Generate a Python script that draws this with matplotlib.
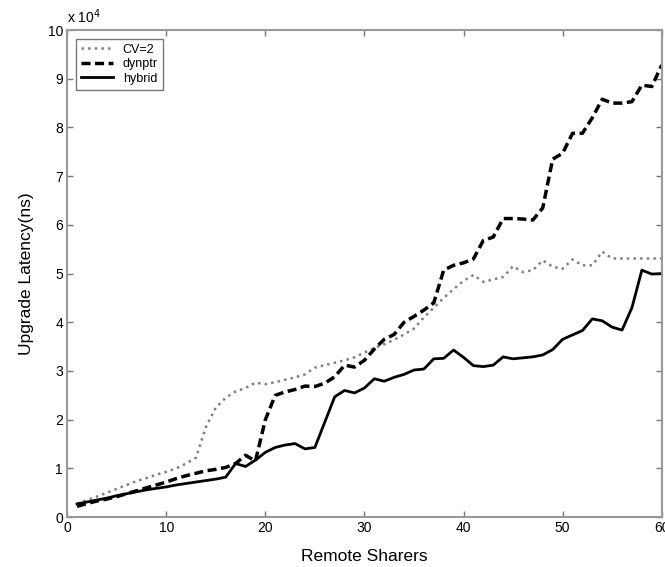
import matplotlib.pyplot as plt

plt.rcParams['font.family'] = ['Liberation Sans', 'DejaVu Sans']

# Remote sharers 1..60
sharers = list(range(1, 61))

# latency values in units of 1e4 ns
cv2 = [0.28, 0.35, 0.42, 0.50, 0.58, 0.66, 0.74, 0.80, 0.87, 0.93,
       1.00, 1.10, 1.22, 1.85, 2.25, 2.45, 2.58, 2.65, 2.76, 2.73,
       2.77, 2.82, 2.87, 2.93, 3.07, 3.12, 3.17, 3.22, 3.28, 3.38,
       3.47, 3.55, 3.64, 3.75, 3.87, 4.10, 4.30, 4.50, 4.68, 4.85,
       4.97, 4.83, 4.88, 4.93, 5.15, 5.03, 5.07, 5.27, 5.14, 5.10,
       5.29, 5.17, 5.17, 5.45, 5.31, 5.31, 5.31, 5.31, 5.31, 5.31]

dynptr = [0.22, 0.28, 0.33, 0.37, 0.42, 0.48, 0.54, 0.60, 0.66, 0.72,
          0.79, 0.85, 0.90, 0.95, 0.98, 1.02, 1.10, 1.27, 1.15, 2.00,
          2.50, 2.57, 2.62, 2.69, 2.68, 2.75, 2.88, 3.12, 3.08, 3.22,
          3.45, 3.65, 3.75, 4.00, 4.12, 4.25, 4.40, 5.07, 5.17, 5.22,
          5.30, 5.68, 5.75, 6.13, 6.13, 6.12, 6.10, 6.35, 7.35, 7.47,
          7.88, 7.88, 8.20, 8.58, 8.50, 8.50, 8.53, 8.87, 8.84, 9.28]

hybrid = [0.27, 0.31, 0.35, 0.39, 0.44, 0.48, 0.52, 0.56, 0.59, 0.62,
          0.66, 0.69, 0.72, 0.75, 0.78, 0.82, 1.10, 1.04, 1.17, 1.33,
          1.43, 1.48, 1.51, 1.40, 1.43, 1.95, 2.47, 2.60, 2.55, 2.65,
          2.84, 2.79, 2.87, 2.93, 3.02, 3.04, 3.25, 3.26, 3.43, 3.28,
          3.11, 3.09, 3.12, 3.29, 3.25, 3.27, 3.29, 3.33, 3.44, 3.65,
          3.74, 3.83, 4.07, 4.03, 3.90, 3.84, 4.30, 5.07, 4.99, 5.00]

fig = plt.figure(figsize=(6.65, 5.67), dpi=100)
ax = fig.add_axes([0.101, 0.088, 0.894, 0.859])

ax.plot(sharers, cv2, color='#808080', linestyle=':', linewidth=1.8, label='CV=2')
ax.plot(sharers, dynptr, color='black', linestyle='--', dashes=(2.6, 1.3),
        linewidth=2.5, label='dynptr')
ax.plot(sharers, hybrid, color='black', linestyle='-', linewidth=2, label='hybrid')

ax.set_xlim(0, 60)
ax.set_ylim(0, 10)
ax.set_xticks(range(0, 61, 10))
ax.set_yticks(range(0, 11))
ax.tick_params(direction='in', top=True, right=True, length=4, width=1,
               color='#777777', labelsize=10, pad=3)
for s in ax.spines.values():
    s.set_color('#999999')
    s.set_linewidth(1.5)

ax.text(0, 1.008, r'x 10$^4$', transform=ax.transAxes, fontsize=10,
        ha='left', va='bottom')

ax.set_xlabel('Remote Sharers', fontsize=12.5, labelpad=10)
ax.set_ylabel('Upgrade Latency(ns)', fontsize=12.5, labelpad=10)

leg = ax.legend(loc='upper left', fontsize=9, fancybox=False,
                edgecolor='#555555', handlelength=2.5, borderpad=0.4,
                labelspacing=0.2, bbox_to_anchor=(0.005, 0.995))
leg.get_frame().set_linewidth(1)

fig.savefig('out.png', dpi=100)
